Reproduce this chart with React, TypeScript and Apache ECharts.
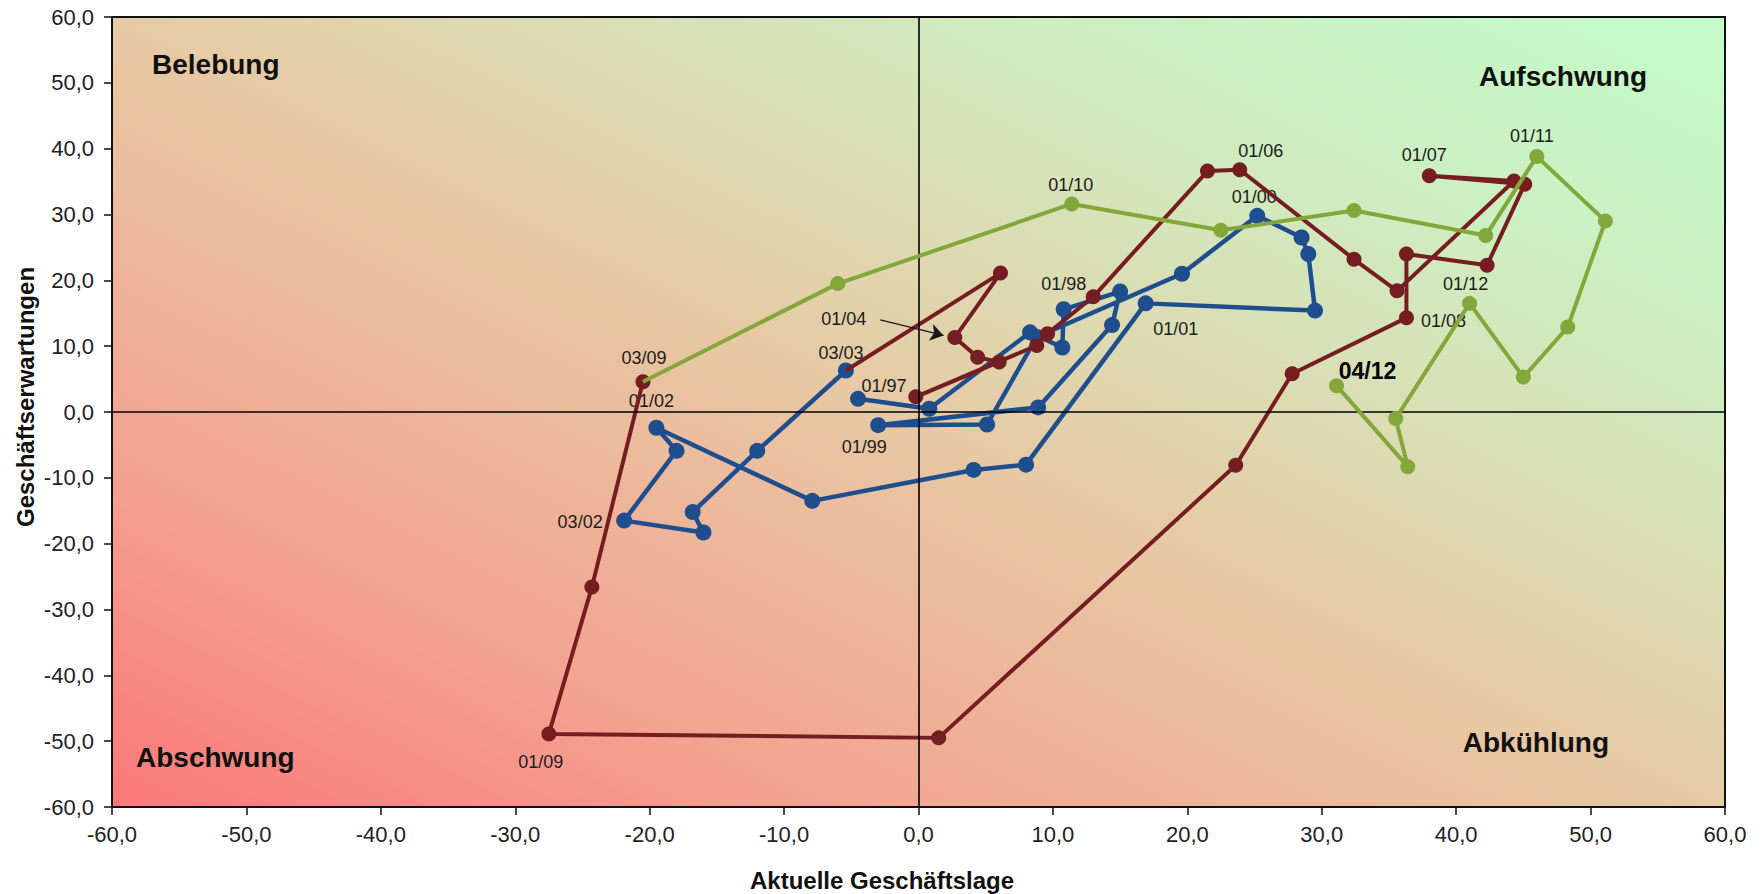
import React, { useEffect, useRef } from "react";
import * as echarts from "echarts";

// ---- Data (x = Aktuelle Geschäftslage, y = Geschäftserwartungen), quarterly ----
// Blue: Q1/1997 .. Q3/2003
const bluePoints: [number, number][] = [
  [-4.5, 2.0], [0.8, 0.5], [8.3, 12.1], [10.7, 9.8],
  [10.8, 15.6], [15.0, 18.3], [14.4, 13.2], [8.9, 0.7],
  [-3.0, -2.0], [5.1, -1.9], [8.8, 11.4], [19.6, 21.0],
  [25.2, 29.8], [28.5, 26.5], [29.0, 24.0], [29.5, 15.4],
  [16.9, 16.5], [8.0, -8.0], [4.1, -8.8], [-7.9, -13.5],
  [-19.5, -2.4], [-18.0, -5.9], [-21.9, -16.5], [-16.0, -18.3],
  [-16.8, -15.2], [-12.0, -5.9], [-5.4, 6.3],
];
// Dark red: Q4/2003 .. Q3/2009 (continues from the last blue point)
const redPoints: [number, number][] = [
  [6.1, 21.1],
  [2.7, 11.3], [4.4, 8.3], [6.0, 7.6], [-0.2, 2.3],
  [8.8, 10.1], [9.6, 11.9], [13.0, 17.5], [21.5, 36.6],
  [23.9, 36.8], [32.4, 23.2], [35.6, 18.4], [44.3, 35.1],
  [38.0, 35.9], [45.1, 34.6], [42.3, 22.3], [36.3, 24.0],
  [36.3, 14.3], [27.8, 5.8], [23.6, -8.1], [1.5, -49.5],
  [-27.5, -48.9], [-24.3, -26.6], [-20.5, 4.6],
];
// Green: Q4/2009 .. Q4/2012 (continues from the last red point)
const greenPoints: [number, number][] = [
  [-6.0, 19.5],
  [11.4, 31.6], [22.5, 27.6], [32.4, 30.6], [42.2, 26.8],
  [46.0, 38.8], [51.1, 29.0], [48.3, 12.9], [45.0, 5.3],
  [41.0, 16.5], [35.5, -1.0], [36.4, -8.3], [31.1, 4.0],
];

const blueStart = { year: 1997, quarter: 1 };
const redStart = { year: 2003, quarter: 4 };
const greenStart = { year: 2009, quarter: 4 };

const shownLabels = [
  "01/97", "01/98", "01/99", "01/00", "01/01", "01/02", "03/02", "03/03",
  "01/04", "01/06", "01/07", "01/08", "01/09", "03/09",
  "01/10", "01/11", "01/12", "04/12",
];
const highlightLabel = "04/12";

const quadrantNames = ["Belebung", "Aufschwung", "Abschwung", "Abkühlung"];
const xTitle = "Aktuelle Geschäftslage";
const yTitle = "Geschäftserwartungen";

// ---- Styling ----
const FONT = '"Liberation Sans", Arial, Helvetica, sans-serif';
const BLUE = "#1f4e8f";
const RED = "#761d22";
const GREEN = "#83a73b";

const labelOffsets: Record<string, [number, number]> = {
  "01/97": [26, -13],
  "01/98": [0, -25],
  "01/99": [-14, 22],
  "01/00": [-3, -19],
  "01/01": [30, 26],
  "01/02": [-5, -27],
  "03/02": [-44, 1],
  "03/03": [-5, -18],
  "01/04": [-111, -19],
  "01/06": [21, -19],
  "01/07": [-5, -21],
  "01/08": [37, 3],
  "01/09": [-8, 28],
  "03/09": [1, -24],
  "01/10": [-1, -19],
  "01/11": [-5, -21],
  "01/12": [-4, -19],
  "04/12": [31, -15],
};

function periodName(start: { year: number; quarter: number }, i: number) {
  const t = start.quarter - 1 + i;
  const q = (t % 4) + 1;
  const y = start.year + Math.floor(t / 4);
  return `0${q}/${String(y % 100).padStart(2, "0")}`;
}

function buildItems(
  points: [number, number][],
  start: { year: number; quarter: number },
  prev: [number, number] | null
) {
  const items: any[] = [];
  if (prev) items.push({ value: prev, symbol: "none", label: { show: false } });
  points.forEach((p, i) => {
    const name = periodName(start, i);
    const item: any = { value: p };
    if (shownLabels.includes(name)) {
      const bold = name === highlightLabel;
      item.label = {
        show: true,
        formatter: name,
        position: "inside",
        offset: labelOffsets[name] || [0, -20],
        fontSize: bold ? 23 : 18,
        fontWeight: bold ? "bold" : "normal",
        color: bold ? "#000" : "#1c1c1c",
        fontFamily: FONT,
      };
    }
    items.push(item);
  });
  return items;
}

const fmt = (v: number) => v.toFixed(1).replace(".", ",");

export default function App() {
  const ref = useRef<HTMLDivElement>(null);

  useEffect(() => {
    if (!ref.current) return;
    const chart = echarts.init(ref.current, undefined, { renderer: "svg" });

    const q104Index = 1; // Q1/2004 in redPoints
    const q104 = redPoints[q104Index];

    const lineSeries = (name: string, color: string, data: any[], size: number, width: number, z: number) => ({
      name,
      type: "line",
      data,
      z,
      symbol: "circle",
      symbolSize: size,
      showAllSymbol: true,
      itemStyle: { color },
      lineStyle: { color, width },
      label: { show: false },
      emphasis: { disabled: true },
      silent: true,
    });

    const option: any = {
      animation: false,
      backgroundColor: "#ffffff",
      textStyle: { fontFamily: FONT },
      grid: {
        left: 112,
        right: 37,
        top: 17,
        bottom: 87,
        show: true,
        containLabel: false,
        outerBoundsMode: "none",
        borderColor: "#111",
        borderWidth: 2,
        backgroundColor: new echarts.graphic.LinearGradient(0, 1, 1, 0, [
          { offset: 0, color: "#fa7878" },
          { offset: 0.22, color: "#f3a391" },
          { offset: 0.47, color: "#e8c6a2" },
          { offset: 0.62, color: "#dcdbb2" },
          { offset: 0.8, color: "#cdefc2" },
          { offset: 1, color: "#c2fcc8" },
        ]),
      },
      xAxis: {
        type: "value",
        min: -60,
        max: 60,
        interval: 10,
        axisLine: { show: true, onZero: false, lineStyle: { color: "#111", width: 2 } },
        axisTick: { show: true, length: 8, inside: false, lineStyle: { color: "#111", width: 1.5 } },
        axisLabel: { formatter: fmt, fontSize: 22, color: "#222", margin: 16, fontFamily: FONT },
        splitLine: { show: false },
      },
      yAxis: {
        type: "value",
        min: -60,
        max: 60,
        interval: 10,
        axisLine: { show: true, onZero: false, lineStyle: { color: "#111", width: 2 } },
        axisTick: { show: true, length: 8, inside: false, lineStyle: { color: "#111", width: 1.5 } },
        axisLabel: { formatter: fmt, fontSize: 22, color: "#222", margin: 18, fontFamily: FONT },
        splitLine: { show: false },
      },
      series: [
        {
          type: "line",
          data: [],
          z: 1,
          silent: true,
          markLine: {
            silent: true,
            symbol: ["none", "none"],
            label: { show: false },
            lineStyle: { color: "#000", width: 1.6, type: "solid" },
            emphasis: { disabled: true },
            data: [{ xAxis: 0 }, { yAxis: 0 }],
          },
        },
        lineSeries("1997-2003", BLUE, buildItems(bluePoints, blueStart, null), 16, 4.5, 3),
        {
          ...lineSeries("2003-2009", RED, buildItems(redPoints, redStart, bluePoints[bluePoints.length - 1]), 15, 4, 4),
          markLine: {
            silent: true,
            symbol: ["none", "arrow"],
            symbolSize: 13,
            label: { show: false },
            lineStyle: { color: "#1a1a1a", width: 1.3, type: "solid" },
            emphasis: { disabled: true },
            data: [
              [
                { coord: [q104[0] - 5.55, q104[1] + 2.7] },
                { coord: [q104[0] - 0.84, q104[1] + 0.33] },
              ],
            ],
          },
        },
        lineSeries("2009-2012", GREEN, buildItems(greenPoints, greenStart, redPoints[redPoints.length - 1]), 15, 4, 5),
      ],
      graphic: [
        { type: "text", x: 152, y: 64, style: { text: quadrantNames[0], font: `bold 28px ${FONT}`, fill: "#111", align: "left", verticalAlign: "middle" } },
        { type: "text", x: 1647, y: 76, style: { text: quadrantNames[1], font: `bold 28px ${FONT}`, fill: "#111", align: "right", verticalAlign: "middle" } },
        { type: "text", x: 136, y: 757, style: { text: quadrantNames[2], font: `bold 28px ${FONT}`, fill: "#111", align: "left", verticalAlign: "middle" } },
        { type: "text", x: 1609, y: 742, style: { text: quadrantNames[3], font: `bold 28px ${FONT}`, fill: "#111", align: "right", verticalAlign: "middle" } },
        { type: "text", x: 882, y: 880, style: { text: xTitle, font: `bold 24px ${FONT}`, fill: "#111", align: "center", verticalAlign: "middle" } },
        { type: "text", x: 25, y: 397, rotation: Math.PI / 2, style: { text: yTitle, font: `bold 24px ${FONT}`, fill: "#111", align: "center", verticalAlign: "middle" } },
      ],
    };

    chart.setOption(option);
    return () => chart.dispose();
  }, []);

  return (
    <div
      ref={ref}
      style={{ position: "absolute", left: 0, top: 0, width: 1762, height: 894 }}
    />
  );
}
